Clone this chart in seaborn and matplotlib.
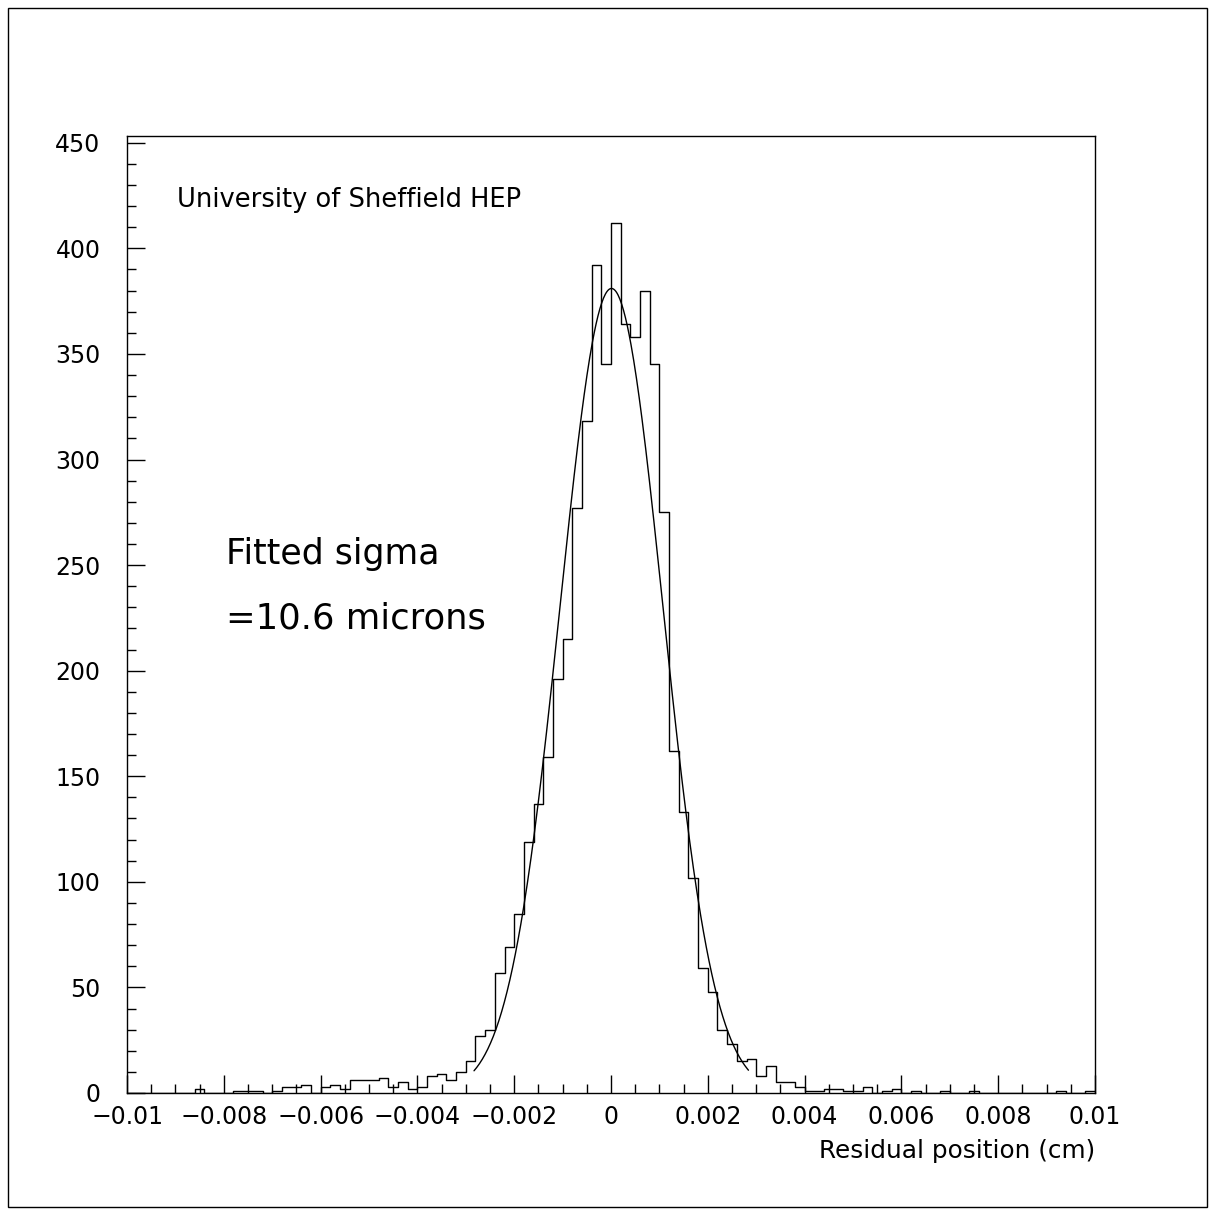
import numpy as np
import pandas as pd
import matplotlib.pyplot as plt
import seaborn as sns
from matplotlib.ticker import MultipleLocator, FixedLocator
from matplotlib.patches import Rectangle

# residual histogram: 100 bins between -0.01 and 0.01 cm
bin_lo = -0.01
bin_hi = 0.01
counts = [
    0, 0, 0, 0, 0, 0, 0, 2, 0, 0,
    0, 1, 1, 1, 0, 1, 3, 3, 4, 0,
    3, 4, 2, 6, 6, 6, 7, 3, 5, 2,
    3, 8, 9, 6, 10, 15, 27, 30, 57, 69,
    85, 119, 137, 159, 196, 215, 277, 318, 392, 345,
    412, 364, 358, 380, 345, 275, 162, 133, 102, 59,
    48, 30, 23, 15, 16, 8, 13, 5, 5, 3,
    1, 1, 2, 2, 1, 1, 3, 0, 1, 2,
    0, 1, 0, 0, 1, 0, 0, 1, 0, 0,
    0, 0, 0, 0, 0, 0, 1, 0, 0, 1,
]

# gaussian fit
fit_amp = 381.0
fit_mean = 0.00001
fit_sigma = 0.00106
fit_lo = -0.00283
fit_hi = 0.00284

xtick_vals = [-0.01, -0.008, -0.006, -0.004, -0.002, 0, 0.002, 0.004, 0.006, 0.008, 0.01]
xtick_text = ["\u22120.01", "\u22120.008", "\u22120.006", "\u22120.004", "\u22120.002", "0",
              "0.002", "0.004", "0.006", "0.008", "0.01"]
ytick_vals = [0, 50, 100, 150, 200, 250, 300, 350, 400, 450]
y_max = 453.2

sns.set_theme(style="white")
plt.rcParams["font.family"] = ["DejaVu Sans"]
plt.rcParams["text.color"] = "black"
plt.rcParams["xtick.color"] = "black"
plt.rcParams["ytick.color"] = "black"

edges = np.linspace(bin_lo, bin_hi, len(counts) + 1)
df = pd.DataFrame({"pos": 0.5 * (edges[:-1] + edges[1:]), "n": counts})

fig = plt.figure(figsize=(12.15, 12.15), dpi=100)
ax = fig.add_axes([127 / 1215, 122 / 1215, 968 / 1215, 957 / 1215])

sns.histplot(data=df, x="pos", weights="n", bins=len(counts), binrange=(bin_lo, bin_hi),
             element="step", fill=False, color="black", linewidth=1.0, ax=ax)

xs = np.linspace(fit_lo, fit_hi, 300)
ys = fit_amp * np.exp(-0.5 * ((xs - fit_mean) / fit_sigma) ** 2)
sns.lineplot(x=xs, y=ys, color="black", linewidth=1.0, ax=ax)

ax.set_xlim(bin_lo, bin_hi)
ax.set_ylim(0, y_max)
ax.set_xlabel("")
ax.set_ylabel("")

ax.xaxis.set_major_locator(FixedLocator(xtick_vals))
ax.set_xticklabels(xtick_text)
ax.xaxis.set_minor_locator(MultipleLocator(0.0005))
ax.yaxis.set_major_locator(FixedLocator(ytick_vals))
ax.yaxis.set_minor_locator(MultipleLocator(10))

ax.tick_params(which="both", direction="in", color="black", labelcolor="black", width=1,
               bottom=True, left=True, top=False, right=False)
ax.tick_params(which="major", length=13)
ax.tick_params(which="minor", length=6.5)
ax.tick_params(axis="x", which="major", pad=8.5, labelsize=17)
ax.tick_params(axis="y", which="major", pad=19, labelsize=17)

for sp in ax.spines.values():
    sp.set_color("black")
    sp.set_linewidth(1.0)

ax.text(-0.00897, 419.6, "University of Sheffield HEP", fontsize=18.5,
        va="baseline", ha="left", color="black")
ax.text(-0.00795, 250.3, "Fitted sigma", fontsize=25, va="baseline", ha="left", color="black")
ax.text(-0.00795, 219.8, "=10.6 microns", fontsize=25.5, va="baseline", ha="left", color="black")

fig.text(1095 / 1215, 1 - 1158 / 1215, "Residual position (cm)", fontsize=17.8,
         ha="right", va="baseline", color="black")

fig.patches.append(Rectangle((8 / 1215, 8 / 1215), 1199 / 1215, 1199 / 1215,
                             transform=fig.transFigure, fill=False,
                             edgecolor="black", linewidth=1.0))

fig.savefig("out.png", dpi=100, facecolor="white")
